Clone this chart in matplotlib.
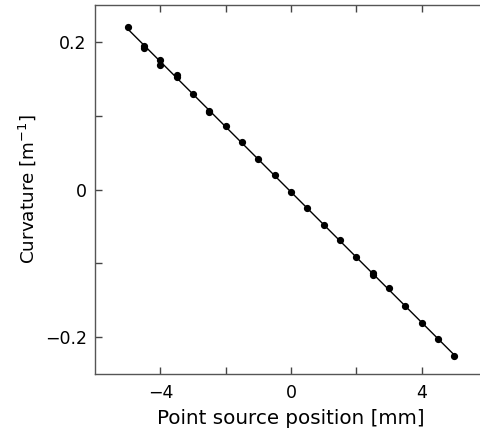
import numpy as np
import matplotlib
matplotlib.use("Agg")
import matplotlib.pyplot as plt

# point source position [mm] and measured curvature [1/m]
pos = [-5.0, -4.5, -4.0, -3.5, -3.0, -2.5, -2.0, -1.5, -1.0, -0.5, 0.0,
       0.5, 1.0, 1.5, 2.0, 2.5, 3.0, 3.5, 4.0, 4.5, 5.0]
curv = [0.220, 0.195, 0.175, 0.155, 0.129, 0.106, 0.086, 0.064, 0.041, 0.019, -0.004,
        -0.025, -0.048, -0.068, -0.091, -0.113, -0.134, -0.158, -0.181, -0.203, -0.225]
# repeated measurements
pos2 = [-4.5, -4.0, -3.5, -2.5, 2.5]
curv2 = [0.192, 0.169, 0.153, 0.105, -0.116]

plt.rcParams['font.family'] = ['DejaVu Sans']

fig = plt.figure(figsize=(4.81, 4.36), dpi=100)
ax = fig.add_axes([0.1975, 0.1422, 0.815, 0.8463])

allx = np.array(pos + pos2)
ally = np.array(curv + curv2)
k, b = np.polyfit(allx, ally, 1)
xl = np.array([min(pos), max(pos)])
ax.plot(xl, k * xl + b, color='black', lw=1.0, zorder=2)
ax.plot(pos, curv, 'o', color='black', ms=4.2, zorder=3)
ax.plot(pos2, curv2, 'o', color='black', ms=4.2, zorder=3)

ax.set_xlim(-6, 6)
ax.set_ylim(-0.25, 0.25)
ax.set_xticks([-4, -2, 0, 2, 4])
ax.set_xticklabels(['\u22124', '', '0', '', '4'])
ax.set_yticks([-0.2, -0.1, 0, 0.1, 0.2])
ax.set_yticklabels(['\u22120.2', '', '0', '', '0.2'])
ax.tick_params(direction='in', length=5, width=1, top=True, right=False,
               labelsize=12.5, color='#444444')
ax.tick_params(axis='x', pad=7)
ax.tick_params(axis='y', pad=6)
ax.spines['right'].set_visible(False)
for s in ax.spines.values():
    s.set_color('#555555')
    s.set_linewidth(1)

ax.set_xlabel('Point source position [mm]', fontsize=14.3, labelpad=5)
ax.set_ylabel('Curvature [m$^{-1}$]', fontsize=13.2, labelpad=5)

fig.savefig('out.png', dpi=100)
